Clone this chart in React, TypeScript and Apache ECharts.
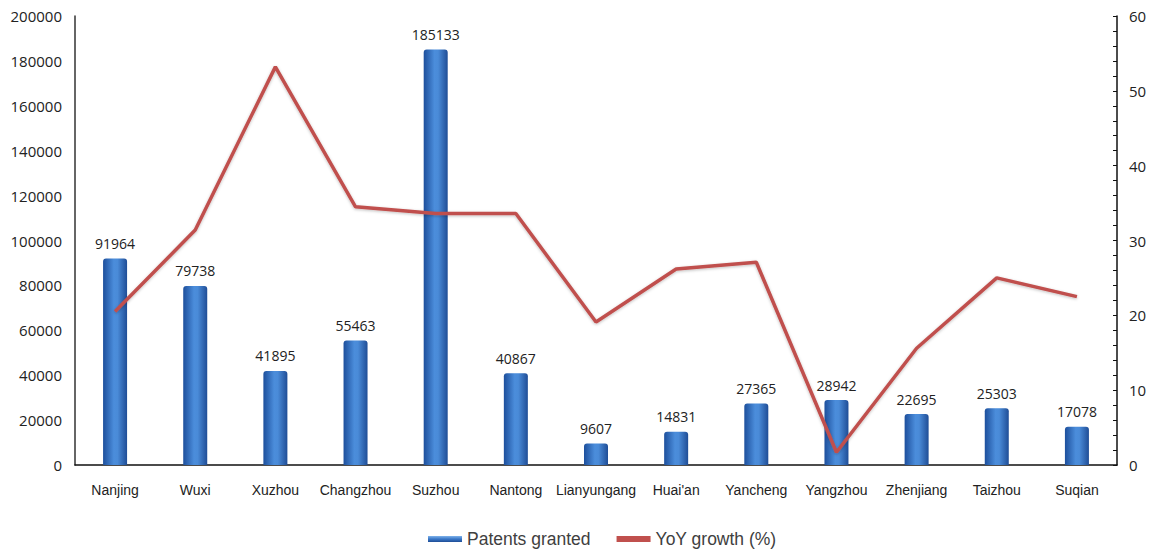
import React, { useEffect, useRef } from "react";
import * as echarts from "echarts";

const cities = ["Nanjing", "Wuxi", "Xuzhou", "Changzhou", "Suzhou", "Nantong", "Lianyungang", "Huai'an", "Yancheng", "Yangzhou", "Zhenjiang", "Taizhou", "Suqian"];
const patents = [91964, 79738, 41895, 55463, 185133, 40867, 9607, 14831, 27365, 28942, 22695, 25303, 17078];
const yoy = [20.5, 31.4, 53.2, 34.5, 33.6, 33.6, 19.1, 26.2, 27.1, 1.7, 15.6, 25.0, 22.5];

export default function App() {
  const ref = useRef<HTMLDivElement>(null);
  useEffect(() => {
    const chart = echarts.init(ref.current!, null, { renderer: "svg" });
    const barGrad = new echarts.graphic.LinearGradient(0, 0, 1, 0, [
      { offset: 0, color: "#1d4f9c" },
      { offset: 0.45, color: "#4b8ddb" },
      { offset: 0.6, color: "#4a8bd8" },
      { offset: 1, color: "#1f4d96" },
    ]);
    const legendGrad = new echarts.graphic.LinearGradient(0, 0, 0, 1, [
      { offset: 0, color: "#7fb2ea" },
      { offset: 0.5, color: "#3a78c8" },
      { offset: 1, color: "#1f4d96" },
    ]);
    chart.setOption({
      animation: false,
      backgroundColor: "#ffffff",
      grid: { left: 75, right: 37, top: 16, bottom: 89, containLabel: false },
      legend: {
        top: 524,
        left: 423,
        itemWidth: 34,
        itemHeight: 6,
        itemGap: 26,
        textStyle: { fontFamily: "Liberation Sans", fontSize: 17.5, color: "#404040", lineHeight: 20 },
        data: [
          { name: "Patents granted", icon: "rect", itemStyle: { color: legendGrad } },
          { name: "YoY growth (%)", icon: "rect" },
        ],
      },
      xAxis: {
        type: "category",
        data: cities,
        axisLine: { lineStyle: { color: "#111", width: 1.5 } },
        axisTick: { show: false },
        axisLabel: { interval: 0, fontFamily: "Liberation Sans", fontSize: 14, color: "#222", margin: 18 },
      },
      yAxis: [
        {
          type: "value",
          min: 0,
          max: 200000,
          interval: 20000,
          axisLine: { show: true, lineStyle: { color: "#333", width: 1.5 } },
          axisTick: { show: false },
          splitLine: { show: false },
          axisLabel: { fontFamily: "Open Sans", fontSize: 15, color: "#222", margin: 13, formatter: (v: number) => String(v) },
        },
        {
          type: "value",
          min: 0,
          max: 60,
          interval: 10,
          position: "right",
          axisLine: { show: true, lineStyle: { color: "#111", width: 1.5 } },
          axisTick: { show: true, inside: true, length: 4, lineStyle: { color: "#111" } },
          minorTick: { show: true, splitNumber: 5, length: 4, lineStyle: { color: "#111" } },
          splitLine: { show: false },
          axisLabel: { fontFamily: "Open Sans", fontSize: 15, color: "#222", margin: 12 },
        },
      ],
      series: [
        {
          name: "Patents granted",
          type: "bar",
          data: patents,
          barWidth: 24,
          itemStyle: { color: barGrad, borderRadius: [3, 3, 0, 0] },
          label: {
            show: true,
            position: "top",
            distance: 8,
            fontFamily: "Open Sans",
            fontSize: 14,
            color: "#222",
          },
        },
        {
          name: "YoY growth (%)",
          type: "line",
          yAxisIndex: 1,
          data: yoy,
          symbol: "none",
          color: "#c0504d",
          lineStyle: {
            color: "#c0504d",
            width: 3.5,
            shadowColor: "rgba(0,0,0,0.25)",
            shadowBlur: 3,
            shadowOffsetY: 1,
          },
        },
      ],
    });
    return () => chart.dispose();
  }, []);
  return <div ref={ref} style={{ position: "absolute", left: 0, top: 0, width: 1154, height: 554 }} />;
}
